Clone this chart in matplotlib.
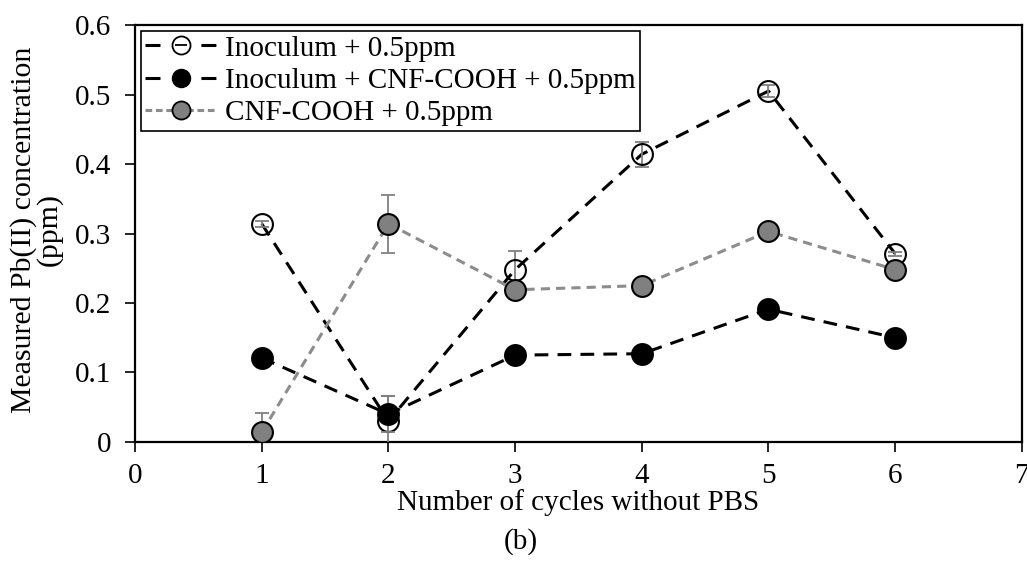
import numpy as np
import matplotlib.pyplot as plt
from matplotlib.lines import Line2D
from matplotlib.legend_handler import HandlerTuple

plt.rcParams['font.family'] = ['Liberation Serif', 'DejaVu Serif']

cycles = [1, 2, 3, 4, 5, 6]

inoc = [0.314, 0.030, 0.248, 0.414, 0.505, 0.271]
inoc_err = [0.004, 0.036, 0.027, 0.018, 0.009, 0.003]

inoc_cnf = [0.121, 0.040, 0.125, 0.127, 0.191, 0.150]
inoc_cnf_err = [0.0, 0.026, 0.0, 0.0, 0.0, 0.0]

cnf = [0.014, 0.314, 0.219, 0.225, 0.303, 0.248]
cnf_err = [0.027, 0.042, 0.0, 0.0, 0.0, 0.0]

labels = ['Inoculum + 0.5ppm', 'Inoculum + CNF-COOH + 0.5ppm', 'CNF-COOH + 0.5ppm']

GRAY = '#808080'
LGRAY = '#8c8c8c'
FS = 21

fig = plt.figure(figsize=(10.27, 5.70), dpi=100)
ax = fig.add_axes([0.1315, 0.2246, 0.8635, 0.7315])

ms = 15
black_dash = (4.5, 3.0)
gray_dash = (3.0, 2.0)

# series 1: open circles
ax.plot(cycles, inoc, color='black', lw=2.2, dashes=black_dash, zorder=2)
ax.errorbar(cycles, inoc, yerr=inoc_err, fmt='none', ecolor=GRAY, elinewidth=1.3,
            capsize=5, capthick=1.3, zorder=3)
ax.plot(cycles, inoc, ls='none', marker='o', ms=ms, mfc='none', mec='black', mew=1.5, zorder=3)

# series 2: filled black
ax.plot(cycles, inoc_cnf, color='black', lw=2.2, dashes=black_dash, zorder=4)
ax.errorbar(cycles, inoc_cnf, yerr=inoc_cnf_err, fmt='none', ecolor=GRAY, elinewidth=1.3,
            capsize=5, capthick=1.3, zorder=5)
ax.plot(cycles, inoc_cnf, ls='none', marker='o', ms=ms, mfc='black', mec='black', mew=1.5, zorder=5)

# series 3: gray
ax.plot(cycles, cnf, color=LGRAY, lw=2.2, dashes=gray_dash, zorder=6)
ax.errorbar(cycles, cnf, yerr=cnf_err, fmt='none', ecolor=GRAY, elinewidth=1.3,
            capsize=5, capthick=1.3, zorder=7)
ax.plot(cycles, cnf, ls='none', marker='o', ms=ms, mfc=GRAY, mec='black', mew=1.5, zorder=7)

ax.set_xlim(0, 7)
ax.set_ylim(0, 0.6)
ax.set_xticks(range(0, 8))
ax.set_yticks(np.arange(0, 0.61, 0.1))
ax.set_yticklabels(['0', '0.1', '0.2', '0.3', '0.4', '0.5', '0.6'])
ax.tick_params(direction='out', length=7, width=1.2, labelsize=FS)
ax.tick_params(axis='x', pad=8)
ax.tick_params(axis='y', pad=10)
for s in ax.spines.values():
    s.set_linewidth(1.6)

ax.set_ylabel('Measured Pb(II) concentration\n(ppm)', fontsize=21.5, linespacing=0.9)
ax.yaxis.set_label_coords(-0.082, 0.51)
fig.text(0.563, 0.118, 'Number of cycles without PBS', fontsize=FS, ha='center', va='center')
fig.text(0.507, 0.05, '(b)', fontsize=FS, ha='center', va='center')

# legend handles
h1 = (Line2D([], [], color='black', lw=2.2, dashes=(4.9, 13.4), marker='o', ms=13,
             mfc='white', mec='black', mew=1.3),
      Line2D([], [], ls='none', marker='_', ms=9, mec='black', mew=1.3))
h2 = Line2D([], [], color='black', lw=2.2, dashes=(4.9, 13.4), marker='o', ms=13,
            mfc='black', mec='black')
h3 = Line2D([], [], color=LGRAY, lw=2.2, dashes=(2.2, 1.2), marker='o', ms=13,
            mfc=GRAY, mec='black', mew=1.3)
leg = ax.legend([h1, h2, h3], labels, loc='upper left', fontsize=FS,
                handler_map={tuple: HandlerTuple(ndivide=1, pad=0)},
                frameon=True, fancybox=False, edgecolor='black', framealpha=1,
                borderaxespad=0.2, labelspacing=0.2, handlelength=2.45,
                handletextpad=0.3, borderpad=0.15)
leg.get_frame().set_linewidth(1.2)

fig.savefig('out.png', dpi=100)
